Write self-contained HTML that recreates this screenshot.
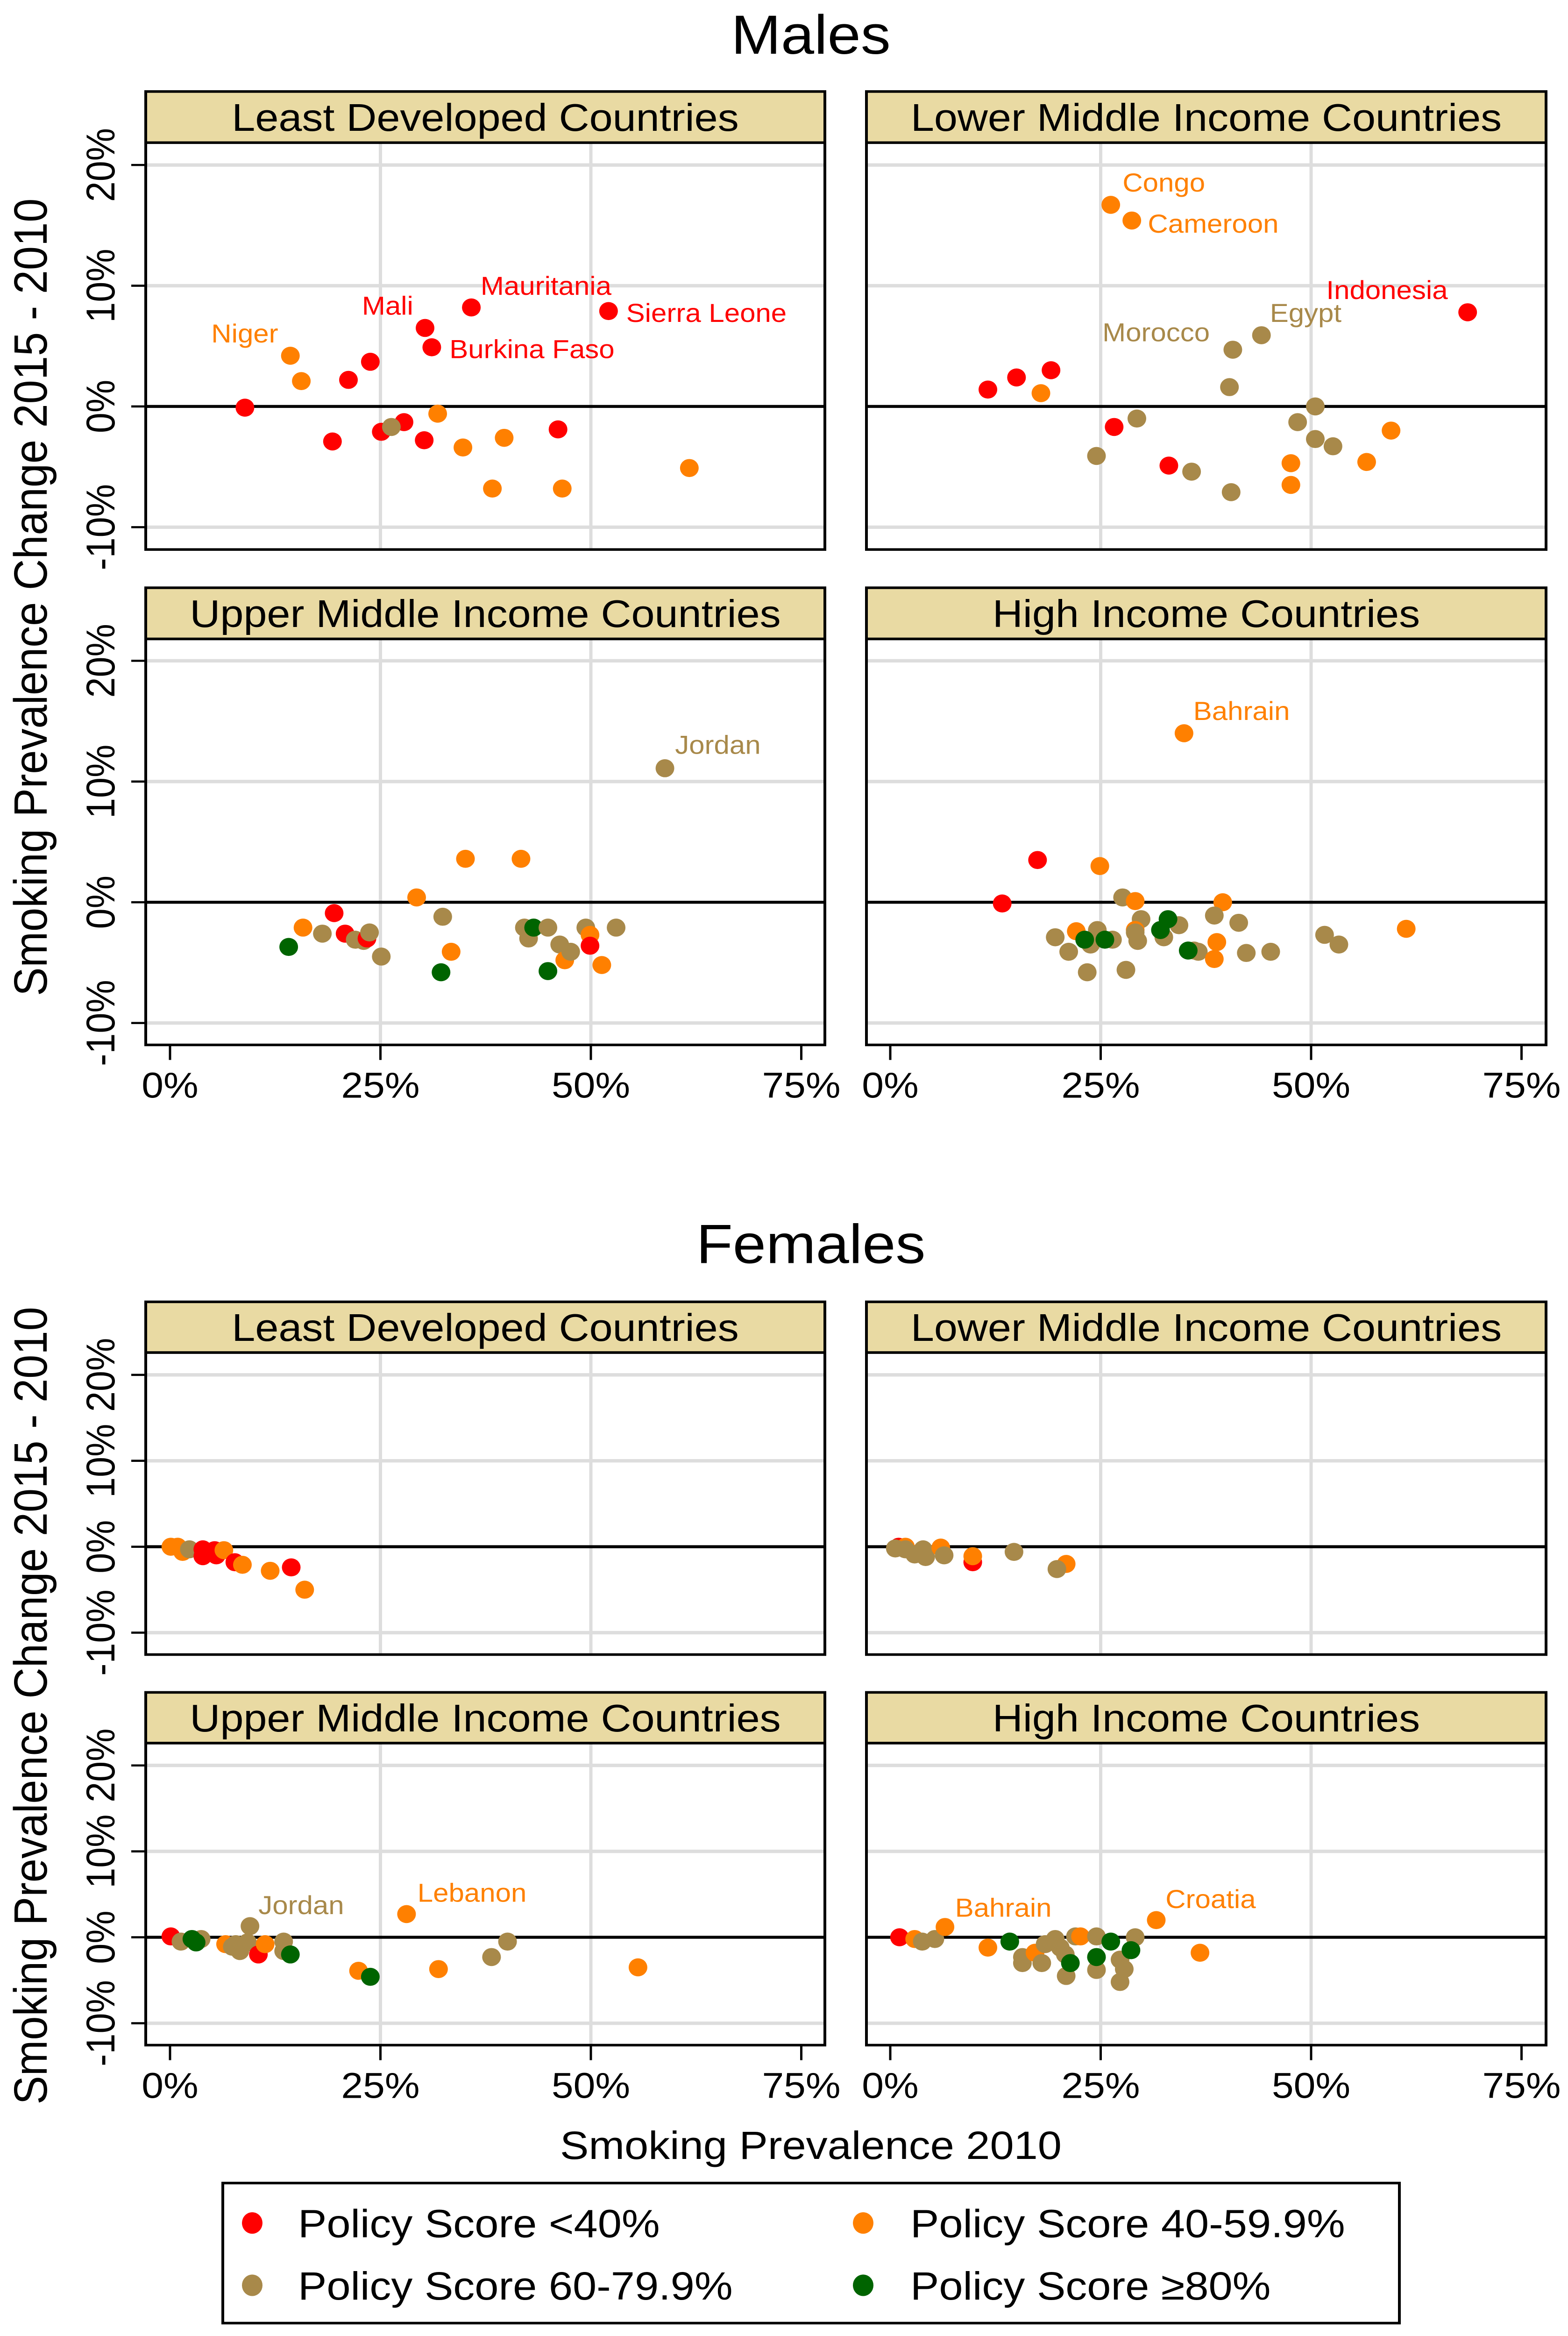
<!DOCTYPE html>
<html><head><meta charset="utf-8"><style>
html,body{margin:0;padding:0;background:#fff;width:3357px;height:100%;overflow:hidden;}
svg{display:block;font-family:"Liberation Sans",Arial,sans-serif;width:3357px;height:100vh;}
</style></head><body>
<svg id="chart" viewBox="0 0 3357 5437" preserveAspectRatio="none" xmlns="http://www.w3.org/2000/svg">
<rect width="3357" height="5437" fill="#fff"/>
<text x="1736" y="125" font-size="128" text-anchor="middle">Males</text>
<text x="1736" y="2940" font-size="128" text-anchor="middle">Females</text>
<text transform="translate(100,1390) rotate(-90)" font-size="100" text-anchor="middle">Smoking Prevalence Change 2015 - 2010</text>
<text transform="translate(100,3970) rotate(-90)" font-size="100" text-anchor="middle">Smoking Prevalence Change 2015 - 2010</text>
<text x="1736" y="5025" font-size="92" text-anchor="middle">Smoking Prevalence 2010</text>
<g>
<rect x="477" y="5081" width="2519" height="326" fill="#fff" stroke="#000" stroke-width="6"/>
<ellipse cx="540" cy="5174" rx="22" ry="25" fill="#ff0000"/>
<text x="638" y="5207" font-size="92">Policy Score &lt;40%</text>
<ellipse cx="1848" cy="5174" rx="22" ry="25" fill="#ff8000"/>
<text x="1949" y="5207" font-size="92">Policy Score 40-59.9%</text>
<ellipse cx="540" cy="5319" rx="22" ry="25" fill="#a8894a"/>
<text x="638" y="5352" font-size="92">Policy Score 60-79.9%</text>
<ellipse cx="1848" cy="5319" rx="22" ry="25" fill="#006400"/>
<text x="1949" y="5352" font-size="92">Policy Score ≥80%</text>
</g>
<g id="panels"></g>
</svg>
<script>
// ---- data: [x %, y %, policy category 0..3] ----
const catColors = ["#ff0000","#ff8000","#a8894a","#006400"];
const xTicks = [0,25,50,75];
const xTickLabels = ["0%","25%","50%","75%"];
const yTicks = [20,10,0,-10];
const yTickLabels = ["20%","10%","0%","-10%"];
const panelTitles = ["Least Developed Countries","Lower Middle Income Countries","Upper Middle Income Countries","High Income Countries"];

const maleLDC = [[8.9,-0.1,0],[14.3,4.2,1],[15.6,2.1,1],[21.2,2.2,0],[23.8,3.7,0],[19.3,-2.9,0],[25.1,-2.1,0],[27.8,-1.3,0],[26.3,-1.7,2],[30.3,6.5,0],[31.1,4.9,0],[35.8,8.2,0],[30.2,-2.8,0],[31.8,-0.6,1],[34.8,-3.4,1],[39.7,-2.6,1],[38.3,-6.8,1],[46.1,-1.9,0],[46.6,-6.8,1],[52.1,7.9,0],[61.7,-5.1,1]];
const maleLMIC = [[11.6,1.4,0],[15.0,2.4,0],[17.9,1.1,1],[19.1,3.0,0],[26.2,16.7,1],[28.7,15.4,1],[26.6,-1.7,0],[29.3,-1.0,2],[24.5,-4.1,2],[33.1,-4.9,0],[35.8,-5.4,2],[40.7,4.7,2],[40.3,1.6,2],[44.1,5.9,2],[40.5,-7.1,2],[48.4,-1.3,2],[50.5,0.0,2],[50.5,-2.7,2],[52.6,-3.3,2],[47.6,-4.7,1],[47.6,-6.5,1],[56.6,-4.6,1],[59.5,-2.0,1],[68.6,7.8,0]];
const maleUMIC = [[14.1,-3.7,3],[15.8,-2.1,1],[18.1,-2.6,2],[19.5,-0.9,0],[20.8,-2.6,0],[22.0,-3.1,2],[23.0,-3.2,2],[23.4,-3.0,0],[23.7,-2.5,2],[25.1,-4.5,2],[29.3,0.4,1],[32.4,-1.2,2],[33.4,-4.1,1],[32.2,-5.8,3],[35.1,3.6,1],[41.7,3.6,1],[42.1,-2.1,2],[42.6,-3.0,2],[43.2,-2.1,3],[44.9,-2.1,2],[44.9,-5.7,3],[46.3,-3.5,2],[46.9,-4.8,1],[47.6,-4.1,2],[49.4,-2.1,2],[49.9,-2.7,1],[49.9,-3.6,0],[51.3,-5.2,1],[53.0,-2.1,2],[58.8,11.1,2]];
const maleHIC = [[13.3,-0.1,0],[17.5,3.5,0],[24.9,3.0,1],[34.9,14.0,1],[27.6,0.4,2],[29.1,0.1,1],[39.5,0.0,1],[38.5,-1.1,2],[41.4,-1.7,2],[29.8,-1.4,2],[34.3,-1.9,2],[29.1,-2.3,1],[29.1,-2.5,2],[22.1,-2.4,1],[24.6,-2.3,2],[19.6,-2.9,2],[26.4,-3.1,2],[23.8,-3.5,2],[21.2,-4.1,2],[29.4,-3.2,2],[32.5,-2.9,2],[38.8,-3.3,1],[36.1,-4.0,2],[36.6,-4.1,2],[38.5,-4.7,1],[42.3,-4.2,2],[45.2,-4.1,2],[51.6,-2.7,2],[53.3,-3.5,2],[61.3,-2.2,1],[23.4,-5.8,2],[28.0,-5.6,2],[33.0,-1.4,3],[32.1,-2.3,3],[23.1,-3.1,3],[25.5,-3.1,3],[35.4,-4.0,3]];
const femLDC = [[0.1,0,1],[0.9,0,1],[1.5,-0.6,1],[2.3,-0.3,2],[3.9,-0.3,0],[3.9,-1.1,0],[5.3,-0.4,0],[5.5,-1.0,0],[6.4,-0.4,1],[7.7,-1.8,0],[8.6,-2.1,1],[11.9,-2.8,1],[14.4,-2.4,0],[16.0,-5.0,1]];
const femLMIC = [[1.0,0,0],[1.8,0,1],[0.6,-0.2,2],[1.8,-0.3,2],[2.9,-0.9,2],[3.9,-0.3,2],[4.2,-1.2,2],[6.0,-0.1,1],[6.4,-1.0,2],[9.8,-1.8,0],[9.8,-1.1,1],[14.7,-0.6,2],[20.9,-2.0,1],[19.8,-2.6,2]];
const femUMIC = [[0.1,0.1,0],[1.3,-0.5,2],[3.7,-0.2,2],[6.6,-0.8,1],[7.4,-1.1,2],[8.3,-1.6,2],[7.8,-0.8,2],[9.5,1.3,2],[9.2,-0.6,2],[10.5,-2.0,0],[11.3,-0.8,1],[13.5,-0.5,2],[13.5,-1.6,2],[2.6,-0.2,3],[3.1,-0.6,3],[14.3,-2.0,3],[28.1,2.7,1],[22.4,-3.9,1],[23.8,-4.6,3],[31.9,-3.7,1],[38.2,-2.3,2],[40.1,-0.5,2],[55.6,-3.5,1]];
const femHIC = [[1.1,0,0],[2.9,-0.2,1],[3.8,-0.5,2],[5.3,-0.2,2],[6.5,1.2,1],[11.6,-1.2,1],[15.7,-3.0,2],[15.7,-2.3,2],[17.2,-1.8,1],[18.0,-3.0,2],[18.4,-0.8,2],[19.6,-0.2,2],[20.2,-1.2,2],[20.8,-2.0,2],[20.9,-4.5,2],[22.0,0.1,2],[22.6,0.1,1],[24.5,0.1,2],[24.5,-3.8,2],[27.3,-2.6,2],[27.3,-5.2,2],[27.8,-3.7,2],[29.1,0,2],[31.6,2.0,1],[36.8,-1.8,1],[14.2,-0.5,3],[21.4,-3.0,3],[24.5,-2.3,3],[26.2,-0.5,3],[28.6,-1.5,3]];

// labels: [text, x %, y %, category]
const maleLDCLabels = [["Niger",4.9,5.3,1],["Mali",22.8,7.6,0],["Mauritania",36.9,9.25,0],["Sierra Leone",54.2,7.0,0],["Burkina Faso",33.2,4.0,0]];
const maleLMICLabels = [["Congo",27.6,17.8,1],["Cameroon",30.6,14.4,1],["Morocco",25.2,5.4,2],["Egypt",45.1,7.0,2],["Indonesia",51.8,8.9,0]];
const maleUMICLabels = [["Jordan",60.0,12.3,2]];
const maleHICLabels = [["Bahrain",36.0,15.1,1]];
const femLDCLabels = [];
const femLMICLabels = [];
const femUMICLabels = [["Jordan",10.5,2.7,2],["Lebanon",29.4,4.15,1]];
const femHICLabels = [["Bahrain",7.7,2.4,1],["Croatia",32.7,3.4,1]];

// ---- layout ----
const NS = "http://www.w3.org/2000/svg";
const cols = [{left:312,right:1766,x0:364},{left:1855,right:3310,x0:1906}];
const pxPerX = 18.02;
const rows = [
  {stripTop:213,stripBottom:332,bottom:1279,zero:946,ppy:28.1,xaxis:false},
  {stripTop:1368,stripBottom:1487,bottom:2432,zero:2100,ppy:28.1,xaxis:true},
  {stripTop:3030,stripBottom:3148,bottom:3851,zero:3600,ppy:20,xaxis:false},
  {stripTop:3939,stripBottom:4057,bottom:4760,zero:4509,ppy:20,xaxis:true}
];
const panels = [
  [0,0,0,maleLDC,maleLDCLabels,"males-least-developed"],[0,1,1,maleLMIC,maleLMICLabels,"males-lower-middle"],
  [1,0,2,maleUMIC,maleUMICLabels,"males-upper-middle"],[1,1,3,maleHIC,maleHICLabels,"males-high-income"],
  [2,0,0,femLDC,femLDCLabels,"females-least-developed"],[2,1,1,femLMIC,femLMICLabels,"females-lower-middle"],
  [3,0,2,femUMIC,femUMICLabels,"females-upper-middle"],[3,1,3,femHIC,femHICLabels,"females-high-income"]
];
function mk(tag, attrs, parent){const e=document.createElementNS(NS,tag);for(const k in attrs)e.setAttribute(k,attrs[k]);parent.appendChild(e);return e;}
const root = document.getElementById("panels");
panels.forEach(p=>{
  const r=rows[p[0]], c=cols[p[1]];
  const xs=v=>c.x0+v*pxPerX, ys=v=>r.zero-v*r.ppy;
  const g=mk("g",{},root);
  
  
  mk("rect",{x:c.left,y:r.stripBottom,width:c.right-c.left,height:r.bottom-r.stripBottom,fill:"#fff"},g);
  [25,50].forEach(v=>mk("line",{x1:xs(v),x2:xs(v),y1:r.stripBottom,y2:r.bottom,stroke:"#dddddd","stroke-width":7},g));
  yTicks.forEach(v=>{ if(v!==0) mk("line",{x1:c.left,x2:c.right,y1:ys(v),y2:ys(v),stroke:"#dddddd","stroke-width":8},g);});
  const zl=mk("line",{x1:c.left,x2:c.right,y1:ys(0),y2:ys(0),stroke:"#000","stroke-width":7},g);
  
  
  p[3].forEach(d=>{
    const e=mk("ellipse",{cx:xs(d[0]),cy:ys(d[1]),rx:20,ry:21,fill:catColors[d[2]]},g);
    
    
  });
  p[4].forEach(l=>{
    const t=mk("text",{x:xs(l[1]),y:ys(l[2]),"font-size":60,fill:catColors[l[3]]},g);
    t.textContent=l[0];
    
    
  });
  mk("rect",{x:c.left,y:r.stripBottom,width:c.right-c.left,height:r.bottom-r.stripBottom,fill:"none",stroke:"#000","stroke-width":6},g);
  const s=mk("rect",{x:c.left,y:r.stripTop,width:c.right-c.left,height:r.stripBottom-r.stripTop,fill:"#e9daa3",stroke:"#000","stroke-width":6},g);
  
  
  const st=mk("text",{x:(c.left+c.right)/2,y:(r.stripTop+r.stripBottom)/2+32,"font-size":90,"text-anchor":"middle"},g);
  st.textContent=panelTitles[p[2]];
  
  
  if(p[1]===0){
    yTicks.forEach((v,i)=>{
      mk("line",{x1:281,x2:c.left,y1:ys(v),y2:ys(v),stroke:"#000","stroke-width":5},g);
      const t=mk("text",{transform:"translate(245,"+ys(v)+") rotate(-90)","font-size":86,"text-anchor":"middle"},g);
      t.textContent=yTickLabels[i];
      
      
    });
  }
  if(r.xaxis){
    xTicks.forEach((v,i)=>{
      mk("line",{x1:xs(v),x2:xs(v),y1:r.bottom,y2:r.bottom+35,stroke:"#000","stroke-width":5},g);
      const t=mk("text",{x:xs(v),y:r.bottom+123,"font-size":84,"text-anchor":"middle"},g);
      t.textContent=xTickLabels[i];
      
      
    });
  }
});
</script>
</body></html>
